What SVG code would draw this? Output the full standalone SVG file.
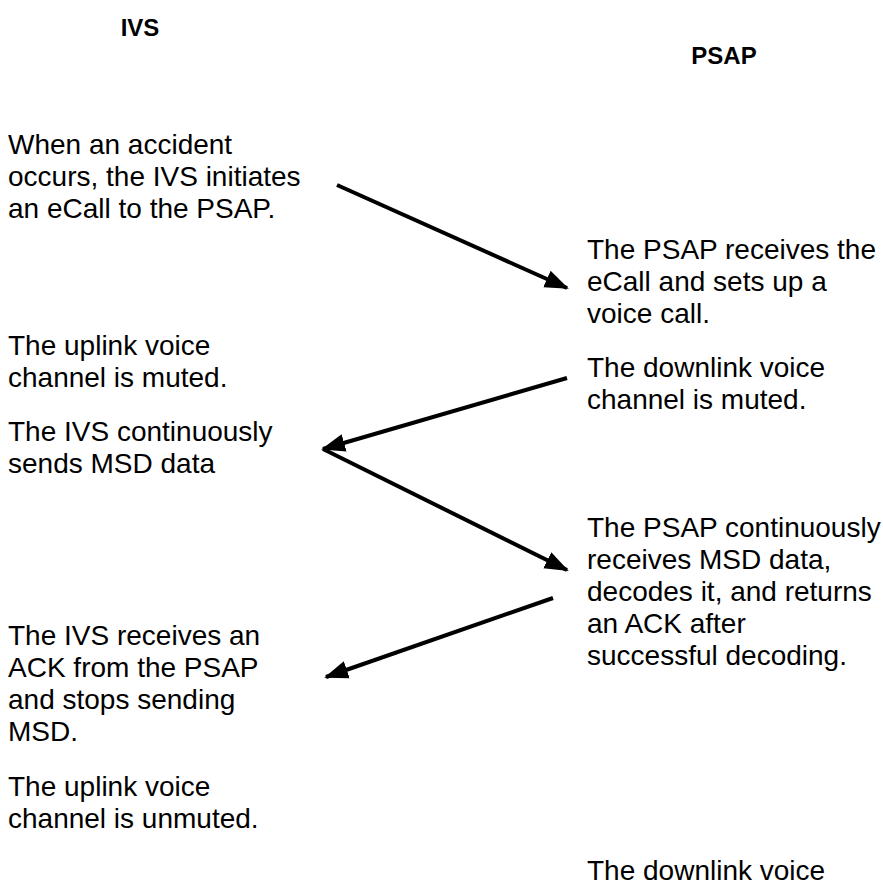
<svg xmlns="http://www.w3.org/2000/svg" width="883" height="884" viewBox="0 0 883 884">
<style>
.t{font-family:"Liberation Sans",Arial,sans-serif;font-size:28px;fill:#000}
.h{font-family:"Liberation Sans",Arial,sans-serif;font-size:24px;font-weight:bold;fill:#000;text-anchor:middle}
.c{stroke:#000;stroke-width:4;fill:none;marker-end:url(#ah)}
</style>
<defs>
<marker id="ah" markerUnits="userSpaceOnUse" markerWidth="24" markerHeight="20" viewBox="0 0 24 20" refX="22" refY="10" orient="auto">
<path d="M0,1 L24,10 L0,19 Z" fill="#000"/>
</marker>
</defs>
<rect width="883" height="884" fill="#fff"/>
<g id="ivs-header"><text class="h" x="140" y="36">IVS</text></g>
<g id="psap-header"><text class="h" x="724" y="64">PSAP</text></g>
<g id="ivs-1"><text class="t" x="8" y="154">When an accident</text><text class="t" x="8" y="186">occurs, the IVS initiates</text><text class="t" x="8" y="218">an eCall to the PSAP.</text></g>
<g id="ivs-2"><text class="t" x="8" y="355">The uplink voice</text><text class="t" x="8" y="387">channel is muted.</text></g>
<g id="ivs-3"><text class="t" x="8" y="441">The IVS continuously</text><text class="t" x="8" y="473">sends MSD data</text></g>
<g id="ivs-4"><text class="t" x="8" y="645">The IVS receives an</text><text class="t" x="8" y="677">ACK from the PSAP</text><text class="t" x="8" y="709">and stops sending</text><text class="t" x="8" y="741">MSD.</text></g>
<g id="ivs-5"><text class="t" x="8" y="796">The uplink voice</text><text class="t" x="8" y="828">channel is unmuted.</text></g>
<g id="psap-1"><text class="t" x="587" y="259">The PSAP receives the</text><text class="t" x="587" y="291">eCall and sets up a</text><text class="t" x="587" y="323">voice call.</text></g>
<g id="psap-2"><text class="t" x="587" y="377">The downlink voice</text><text class="t" x="587" y="409">channel is muted.</text></g>
<g id="psap-3"><text class="t" x="587" y="537">The PSAP continuously</text><text class="t" x="587" y="569">receives MSD data,</text><text class="t" x="587" y="601">decodes it, and returns</text><text class="t" x="587" y="633">an ACK after</text><text class="t" x="587" y="665">successful decoding.</text></g>
<g id="psap-4"><text class="t" x="587" y="880">The downlink voice</text></g>
<g id="connectors">
<line class="c" x1="337" y1="185" x2="567" y2="288"/>
<line class="c" x1="567" y1="378" x2="323" y2="449"/>
<line class="c" x1="323" y1="449" x2="567" y2="570"/>
<line class="c" x1="553" y1="598" x2="326" y2="677"/>
</g>
</svg>
